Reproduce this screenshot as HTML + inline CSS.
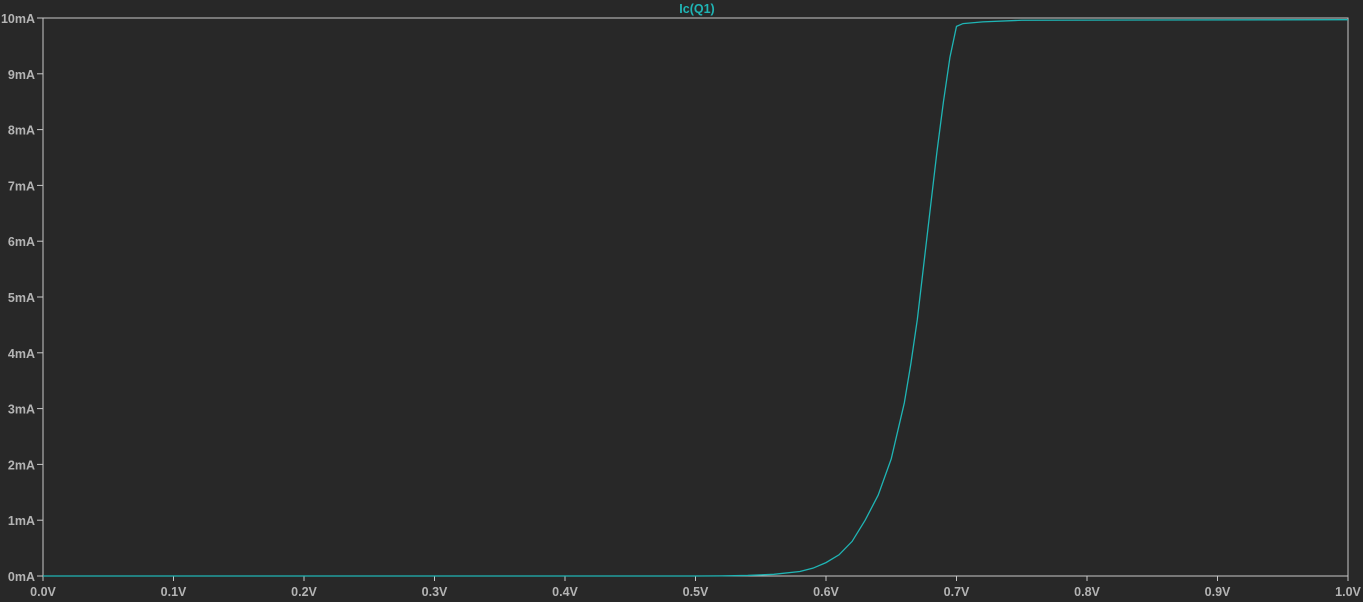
<!DOCTYPE html>
<html><head><meta charset="utf-8"><style>
html,body{margin:0;padding:0;background:#282828;}
svg{display:block;}
text{font-family:"Liberation Sans",sans-serif;font-weight:bold;font-size:12.5px;}
</style></head><body>
<svg id="chart" width="1363" height="602">
<rect width="1363" height="602" fill="#282828"/>
<text x="697" y="13" fill="#1fb5b5" text-anchor="middle">Ic(Q1)</text>
<g id="axes"></g>
<polyline id="trace" fill="none" stroke="#1fb5b5" stroke-width="1.3"/>
</svg>
<script>
const volts = [0, 0.5, 0.52, 0.54, 0.56, 0.58, 0.59, 0.60, 0.61, 0.62, 0.63, 0.64, 0.65, 0.66, 0.665, 0.67, 0.675, 0.68, 0.685, 0.69, 0.695, 0.70, 0.705, 0.72, 0.75, 1.0];
const currents = [0, 0, 0.002, 0.01, 0.03, 0.08, 0.14, 0.24, 0.38, 0.62, 1.0, 1.45, 2.1, 3.1, 3.8, 4.6, 5.6, 6.6, 7.6, 8.5, 9.3, 9.85, 9.9, 9.93, 9.96, 9.97];
const xTicks = [0,0.1,0.2,0.3,0.4,0.5,0.6,0.7,0.8,0.9,1.0];
const xLabels = ["0.0V","0.1V","0.2V","0.3V","0.4V","0.5V","0.6V","0.7V","0.8V","0.9V","1.0V"];
const yTicks = [0,1,2,3,4,5,6,7,8,9,10];
const yLabels = ["0mA","1mA","2mA","3mA","4mA","5mA","6mA","7mA","8mA","9mA","10mA"];
const L=43,R=1348,T=18,B=576;
const xs=v=>L+(v-0)/(1-0)*(R-L);
const ys=v=>B-(v/10)*(B-T);
const ns="http://www.w3.org/2000/svg";
const ax=document.getElementById('axes');
const mk=(t,a)=>{const e=document.createElementNS(ns,t);for(const k in a)e.setAttribute(k,a[k]);return e;};
const frame=mk('rect',{x:L,y:T,width:R-L,height:B-T,fill:'none',stroke:'#c8c8c8','stroke-width':1});


ax.appendChild(frame);
xTicks.forEach((v,i)=>{
  const x=xs(v);
  const tk=mk('line',{x1:x,x2:x,y1:B,y2:B+5,stroke:'#c8c8c8'});
  
  
  ax.appendChild(tk);
  const t=mk('text',{x:x,y:B+20,fill:'#b4b4b4','text-anchor':'middle'});
  
  
  t.textContent=xLabels[i];ax.appendChild(t);
});
yTicks.forEach((v,i)=>{
  const y=ys(v);
  const tk=mk('line',{x1:L-6,x2:L,y1:y,y2:y,stroke:'#c8c8c8'});
  
  
  ax.appendChild(tk);
  const t=mk('text',{x:L-8,y:y+5,fill:'#b4b4b4','text-anchor':'end'});
  
  
  t.textContent=yLabels[i];ax.appendChild(t);
});
document.getElementById('trace').setAttribute('points',volts.map((v,i)=>xs(v)+','+ys(currents[i])).join(' '));
</script>
</body></html>
